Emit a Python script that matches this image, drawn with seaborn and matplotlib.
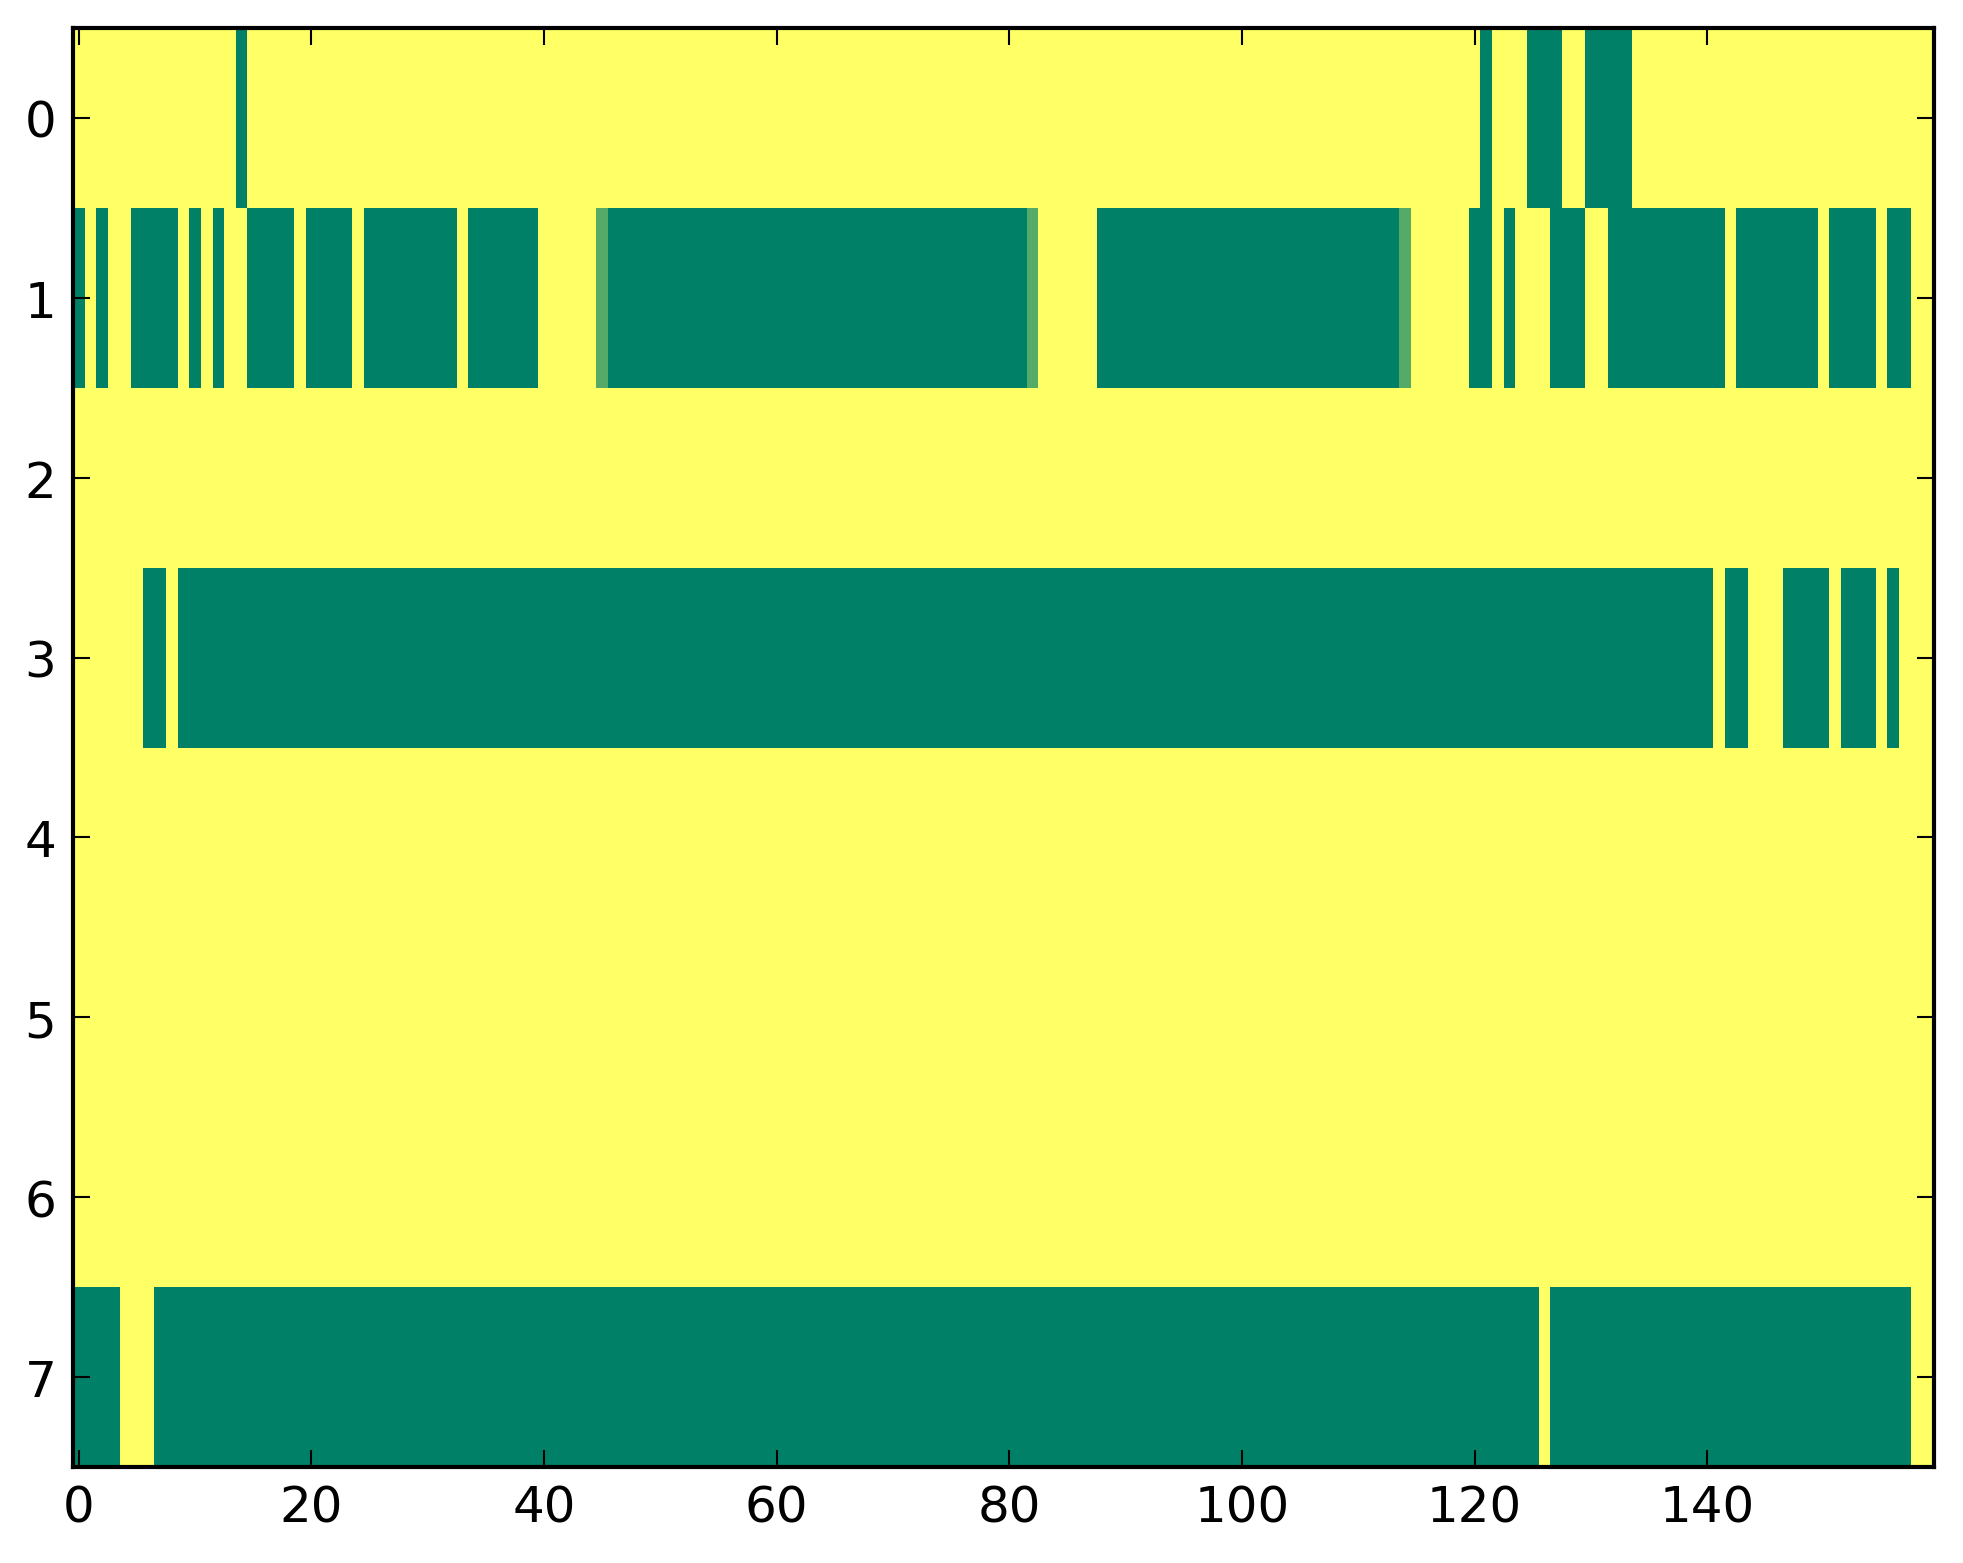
import numpy as np
import pandas as pd
import matplotlib
matplotlib.use("Agg")
import matplotlib.pyplot as plt
import seaborn as sns

# Cell values, as run lengths per row (value, count)
# 0 = dark green, 1 = yellow, 0.33 = light green
G, Y, L = 0.0, 1.0, 0.33
row0 = [(Y, 14), (G, 1), (Y, 106), (G, 1), (Y, 3), (G, 3), (Y, 2), (G, 4), (Y, 26)]
row1 = [(G, 1), (Y, 1), (G, 1), (Y, 2), (G, 4), (Y, 1), (G, 1), (Y, 1), (G, 1), (Y, 2),
        (G, 4), (Y, 1), (G, 4), (Y, 1), (G, 8), (Y, 1), (G, 6), (Y, 5), (L, 1), (G, 36),
        (L, 1), (Y, 5), (G, 26), (L, 1), (Y, 5), (G, 2), (Y, 1), (G, 1), (Y, 3), (G, 3),
        (Y, 2), (G, 10), (Y, 1), (G, 7), (Y, 1), (G, 4), (Y, 1), (G, 2), (Y, 2)]
row2 = [(Y, 160)]
row3 = [(Y, 6), (G, 2), (Y, 1), (G, 132), (Y, 1), (G, 2), (Y, 3), (G, 4), (Y, 1),
        (G, 3), (Y, 1), (G, 1), (Y, 3)]
row4 = [(Y, 160)]
row5 = [(Y, 160)]
row6 = [(Y, 160)]
row7 = [(G, 4), (Y, 3), (G, 119), (Y, 1), (G, 31), (Y, 2)]

x_ticks = [0, 20, 40, 60, 80, 100, 120, 140]
y_ticks = [0, 1, 2, 3, 4, 5, 6, 7]

rows = [row0, row1, row2, row3, row4, row5, row6, row7]
matrix = np.array([[v for v, n in r for _ in range(n)] for r in rows])
df = pd.DataFrame(matrix)

sns.set_style("white")
plt.rcParams['font.family'] = ['DejaVu Sans']

fig = plt.figure(figsize=(1963 / 300, 1564 / 300), dpi=300)
ax = fig.add_axes([73 / 1963, 1 - 1468 / 1564, (1934 - 73) / 1963, (1468 - 29) / 1564])
sns.heatmap(df, ax=ax, cmap="summer", vmin=0, vmax=1, cbar=False,
            xticklabels=False, yticklabels=False)
ax.set_axisbelow(False)

for s in ax.spines.values():
    s.set_visible(True)
    s.set_color("black")
    s.set_linewidth(1.0)
    s.set_zorder(3)

ax.set_xticks([t + 0.5 for t in x_ticks])
ax.set_xticklabels([str(t) for t in x_ticks], fontsize=12, rotation=0)
ax.set_yticks([t + 0.5 for t in y_ticks])
ax.set_yticklabels([str(t) for t in y_ticks], fontsize=12, rotation=0)
ax.tick_params(direction="in", length=4, width=0.5, top=True, right=True,
               bottom=True, left=True, pad=4, colors="black")
ax.set_xlabel("")
ax.set_ylabel("")

fig.savefig("out.png", dpi=300)
